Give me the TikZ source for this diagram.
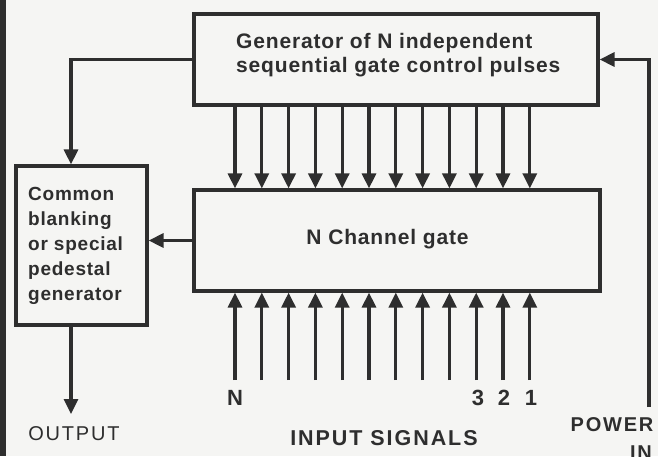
\documentclass[tikz,border=0pt]{standalone}
\usepackage{fontspec}
\setmainfont{Liberation Sans}[LetterSpace=4]
\newfontfamily\capsfont{Liberation Sans}[LetterSpace=9]
\usetikzlibrary{arrows.meta}
\definecolor{ink}{HTML}{2E2E2E}
\definecolor{paper}{HTML}{F5F5F3}
\begin{document}
\begin{tikzpicture}[x=1pt,y=-1pt,
  box/.style={draw=ink,line width=3.2pt,rectangle,inner sep=0pt},
  arr/.style={draw=ink,line width=3.2pt,-{Triangle[width=14pt,length=15pt]}},
  txt/.style={text=ink,font=\fontsize{21}{24}\selectfont\bfseries,inner sep=0pt},
  capslabel/.style={text=ink,font=\fontsize{20}{22}\selectfont\capsfont\bfseries,inner sep=0pt}]
\useasboundingbox (0,0) rectangle (658,456);
\fill[paper] (0,0) rectangle (658,456);
\fill[ink] (0,0) rectangle (6,456);
% boxes
\node[box,minimum width=404pt,minimum height=91pt] (gen) at (396,59.5) {};
\node[box,minimum width=406pt,minimum height=101pt] (gate) at (397,240.5) {};
\node[box,minimum width=131pt,minimum height=159pt] (blank) at (81.5,245.5) {};
% texts
\node[txt,anchor=west,align=left] (gent) at (236,55) {Generator of N independent\\sequential gate control pulses};
\node[txt] (gatet) at (387.5,239) {N Channel gate};
\node[txt,anchor=west,align=left,font=\fontsize{19}{25}\selectfont\bfseries] (blankt) at (28,246) {Common\\blanking\\or special\\pedestal\\generator};
% control pulses and input signals
\foreach \i in {0,...,11}{
  \coordinate (c\i) at ({235+26.8*\i},0);
  \draw[arr] (gen.south -| c\i) -- (gate.north -| c\i);
  \coordinate (in\i) at ({235+26.8*\i},380);
  \draw[arr] (in\i) -- (gate.south -| in\i);
}
% feedback to blanking
\coordinate (fb) at (71,0);
\draw[arr] (gen.west) -| (blank.north -| fb);
\draw[arr] (gate.west) -- (blank.east |- gate.west);
% output
\coordinate (out) at (71,414);
\draw[arr] (blank.south -| out) -- (out);
% power
\coordinate (pw) at (649,407);
\draw[arr] (pw) |- (gen.east);
% labels
\node[txt,font=\fontsize{22}{24}\selectfont\bfseries] (lN) at (235,398) {N};
\node[txt,font=\fontsize{22}{24}\selectfont\bfseries] (l3) at (478,398) {3};
\node[txt,font=\fontsize{22}{24}\selectfont\bfseries] (l2) at (504,398) {2};
\node[txt,font=\fontsize{22}{24}\selectfont\bfseries] (l1) at (531,398) {1};
\node[capslabel,font=\fontsize{20}{22}\selectfont\capsfont] (lout) at (74,434) {OUTPUT};
\node[capslabel,font=\fontsize{21.5}{22}\selectfont\capsfont\bfseries] (lin) at (384,438) {INPUT SIGNALS};
\node[capslabel] (lpow) at (612,425) {POWER};
\node[capslabel] (lpin) at (641,453) {IN};
\end{tikzpicture}
\end{document}
